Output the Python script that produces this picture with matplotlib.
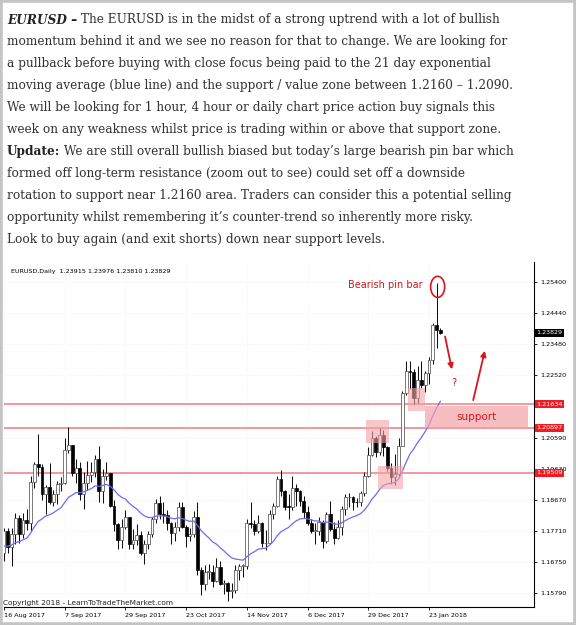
import numpy as np
import pandas as pd
import matplotlib
matplotlib.use("Agg")
import matplotlib.pyplot as plt
from matplotlib.patches import Rectangle, Ellipse
from matplotlib.transforms import blended_transform_factory

# --- data (EURUSD daily, Aug 2017 - Jan 2018) ---
dates = pd.bdate_range("2017-08-16", "2018-01-26").drop(pd.to_datetime(["2017-12-25", "2018-01-01"]))

opens = [
    1.1705, 1.1770, 1.1723, 1.1761, 1.1812, 1.1763, 1.1805, 1.1797, 1.1924, 1.1977, 1.1968, 1.1886,
    1.1908, 1.1860, 1.1886, 1.1917, 1.1920, 1.2023, 1.2036, 1.1950, 1.1966, 1.1886, 1.1920, 1.1943,
    1.1954, 1.1995, 1.1894, 1.1940, 1.1950, 1.1848, 1.1792, 1.1745, 1.1785,
    1.1815, 1.1732, 1.1745, 1.1760, 1.1705, 1.1730, 1.1763, 1.1810, 1.1858, 1.1825, 1.1820, 1.1795,
    1.1765, 1.1785, 1.1847, 1.1785, 1.1757, 1.1762, 1.1815, 1.1652, 1.1607, 1.1645,
    1.1645, 1.1617, 1.1660, 1.1607, 1.1610, 1.1585, 1.1590, 1.1650, 1.1664, 1.1664, 1.1797, 1.1794,
    1.1771, 1.1795, 1.1733, 1.1734, 1.1823, 1.1850, 1.1932, 1.1894, 1.1846, 1.1845,
    1.1905, 1.1895, 1.1865, 1.1830, 1.1795, 1.1772, 1.1772, 1.1800, 1.1742, 1.1825, 1.1779, 1.1750,
    1.1785, 1.1838, 1.1875, 1.1875, 1.1862, 1.1860, 1.1889, 1.1942,
    1.2005, 1.2059, 1.2015, 1.2068, 1.2030, 1.1967, 1.1937, 1.1947, 1.2035, 1.2197, 1.2264, 1.2263,
    1.2181, 1.2236, 1.2221, 1.2260, 1.2299, 1.2408, 1.23915,
]
highs = [
    1.1780, 1.1780, 1.1780, 1.1826, 1.1822, 1.1826, 1.1838, 1.1940, 1.1983, 1.2070, 1.1978, 1.1915,
    1.1980, 1.1898, 1.1925, 1.1937, 1.2060, 1.2092, 1.2036, 1.1995, 1.1984, 1.1953, 1.1988, 1.1985,
    1.2005, 1.2034, 1.1962, 1.1985, 1.1951, 1.1867, 1.1797, 1.1810, 1.1835,
    1.1815, 1.1777, 1.1792, 1.1770, 1.1743, 1.1773, 1.1815, 1.1869, 1.1880, 1.1860, 1.1835, 1.1799,
    1.1800, 1.1860, 1.1860, 1.1790, 1.1781, 1.1833, 1.1861, 1.1661, 1.1667, 1.1669,
    1.1667, 1.1688, 1.1680, 1.1620, 1.1615, 1.1612, 1.1668, 1.1670, 1.1670, 1.1810, 1.1861, 1.1805,
    1.1822, 1.1800, 1.1775, 1.1835, 1.1858, 1.1940, 1.1961, 1.1898, 1.1886, 1.1940,
    1.1916, 1.1897, 1.1878, 1.1848, 1.1810, 1.1795, 1.1815, 1.1805, 1.1830, 1.1863, 1.1800, 1.1806,
    1.1848, 1.1885, 1.1890, 1.1879, 1.1873, 1.1895, 1.1955, 1.2030,
    1.2081, 1.2065, 1.2089, 1.2083, 1.2035, 1.1980, 1.2010, 1.2058, 1.2203, 1.2297, 1.2296, 1.2271,
    1.2280, 1.2297, 1.2265, 1.2309, 1.2415, 1.2537, 1.23976,
]
lows = [
    1.1680, 1.1704, 1.1662, 1.1730, 1.1735, 1.1750, 1.1774, 1.1771, 1.1905, 1.1941, 1.1866, 1.1823,
    1.1855, 1.1850, 1.1856, 1.1896, 1.1917, 1.2012, 1.1940, 1.1920, 1.1867, 1.1838, 1.1898, 1.1923,
    1.1937, 1.1861, 1.1858, 1.1930, 1.1846, 1.1771, 1.1717, 1.1720, 1.1777,
    1.1717, 1.1715, 1.1727, 1.1697, 1.1669, 1.1715, 1.1752, 1.1795, 1.1808, 1.1795, 1.1775, 1.1730,
    1.1740, 1.1770, 1.1780, 1.1722, 1.1740, 1.1752, 1.1635, 1.1574, 1.1590, 1.1622,
    1.1600, 1.1614, 1.1604, 1.1576, 1.1554, 1.1566, 1.1580, 1.1620, 1.1630, 1.1655, 1.1780, 1.1760,
    1.1765, 1.1722, 1.1713, 1.1730, 1.1810, 1.1845, 1.1880, 1.1835, 1.1810, 1.1837,
    1.1850, 1.1850, 1.1812, 1.1790, 1.1765, 1.1730, 1.1760, 1.1718, 1.1733, 1.1770, 1.1730, 1.1748,
    1.1760, 1.1820, 1.1845, 1.1835, 1.1845, 1.1848, 1.1880, 1.1937,
    1.2002, 1.2000, 1.2007, 1.2004, 1.1956, 1.1916, 1.1915, 1.1942, 1.2034, 1.2192, 1.2209, 1.2165,
    1.2167, 1.2213, 1.2202, 1.2225, 1.2287, 1.2337, 1.23810,
]
closes = [
    1.1770, 1.1723, 1.1761, 1.1812, 1.1763, 1.1805, 1.1797, 1.1924, 1.1977, 1.1968, 1.1886, 1.1908,
    1.1860, 1.1886, 1.1917, 1.1920, 1.2023, 1.2036, 1.1950, 1.1966, 1.1886, 1.1920, 1.1943, 1.1954,
    1.1995, 1.1894, 1.1940, 1.1950, 1.1848, 1.1792, 1.1745, 1.1785, 1.1815,
    1.1732, 1.1745, 1.1760, 1.1705, 1.1730, 1.1763, 1.1810, 1.1858, 1.1825, 1.1820, 1.1795, 1.1765,
    1.1785, 1.1847, 1.1785, 1.1757, 1.1762, 1.1815, 1.1652, 1.1607, 1.1645, 1.1645,
    1.1617, 1.1660, 1.1607, 1.1610, 1.1585, 1.1590, 1.1650, 1.1664, 1.1664, 1.1797, 1.1794, 1.1771,
    1.1795, 1.1733, 1.1734, 1.1823, 1.1850, 1.1932, 1.1894, 1.1846, 1.1845, 1.1905,
    1.1895, 1.1865, 1.1830, 1.1795, 1.1772, 1.1772, 1.1800, 1.1742, 1.1825, 1.1779, 1.1750, 1.1785,
    1.1838, 1.1875, 1.1875, 1.1862, 1.1860, 1.1889, 1.1942, 1.2005,
    1.2059, 1.2015, 1.2068, 1.2030, 1.1967, 1.1937, 1.1947, 1.2035, 1.2197, 1.2264, 1.2263, 1.2181,
    1.2236, 1.2221, 1.2260, 1.2299, 1.2408, 1.2392, 1.23829,
]
ema_start = 1.1725  # value of the 21 EMA at the left edge of the chart

price_ticks = [1.25400, 1.24440, 1.23480, 1.22520, 1.21560, 1.20590,
               1.19630, 1.18670, 1.17710, 1.16750, 1.15790]
hidden_ticks = [1.21560]  # covered by the level tag in the original
level_lines = [1.21634, 1.20897, 1.19509]
last_price = 1.23829
date_labels = ["16 Aug 2017", "7 Sep 2017", "29 Sep 2017", "23 Oct 2017",
               "14 Nov 2017", "6 Dec 2017", "29 Dec 2017", "23 Jan 2018"]
header = "EURUSD,Daily  1.23915 1.23976 1.23810 1.23829"

para = [
    " The EURUSD is in the midst of a strong uptrend with a lot of bullish",
    "momentum behind it and we see no reason for that to change. We are looking for",
    "a pullback before buying with close focus being paid to the 21 day exponential",
    "moving average (blue line) and the support / value zone between 1.2160 \u2013 1.2090.",
    "We will be looking for 1 hour, 4 hour or daily chart price action buy signals this",
    "week on any weakness whilst price is trading within or above that support zone.",
    " We are still overall bullish biased but today\u2019s large bearish pin bar which",
    "formed off long-term resistance (zoom out to see) could set off a downside",
    "rotation to support near 1.2160 area. Traders can consider this a potential selling",
    "opportunity whilst remembering it\u2019s counter-trend so inherently more risky.",
    "Look to buy again (and exit shorts) down near support levels.",
]
lead_words = {0: ("EURUSD \u2013", "italic"), 6: ("Update:", "normal")}

W, H = 576, 625
fig = plt.figure(figsize=(W / 100, H / 100), dpi=100)
fig.patch.set_facecolor("white")
renderer = fig.canvas.get_renderer()

# --- paragraph ---
txt_col = "#333333"
probe = fig.text(0, 0, para[1], fontsize=10, family="DejaVu Serif")
fs = 10 * 503 / probe.get_window_extent(renderer).width
probe.remove()
for k, line in enumerate(para):
    ybase = 1 - (23.5 + k * 21.9) / H
    x = 7 / W
    if k in lead_words:
        word, style = lead_words[k]
        t = fig.text(x, ybase, word, fontsize=fs, family="DejaVu Serif", weight="bold",
                     style=style, color="#222222", va="baseline")
        x = t.get_window_extent(renderer).x1 / W
    fig.text(x, ybase, line, fontsize=fs, family="DejaVu Serif", color=txt_col, va="baseline")

# --- chart ---
px_left, px_right, px_top, px_bot = 4, 534, 262, 607
ax = fig.add_axes([px_left / W, 1 - px_bot / H, (px_right - px_left) / W, (px_bot - px_top) / H])
xs = np.arange(len(closes))
o, h, l, c = map(np.array, (opens, highs, lows, closes))
bull = c >= o

ax.vlines(xs, l, h, color="#111111", lw=0.75, zorder=3)
body_lo = np.minimum(o, c)
body_h = np.maximum(np.abs(c - o), 0.00025)
ax.bar(xs[bull], body_h[bull], bottom=body_lo[bull], width=0.75, facecolor="white",
       edgecolor="#555555", lw=0.55, zorder=4)
ax.bar(xs[~bull], body_h[~bull], bottom=body_lo[~bull], width=0.75, facecolor="black",
       edgecolor="black", lw=0.5, zorder=4)

ema = [ema_start]
for v in closes[1:]:
    ema.append(ema[-1] + 2 / 22 * (v - ema[-1]))
ax.plot(xs, ema, color="#6b6bf5", lw=0.9, zorder=5)

for lv in level_lines:
    ax.axhline(lv, color="#f2858c", lw=1.2, zorder=2)

pink = "#f5a3a8"
for (x0, x1, y0, y1) in [(95.45, 101.5, 1.2043, 1.2114), (98.6, 105.1, 1.1901, 1.1972),
                         (106.45, 110.9, 1.2142, 1.2213)]:
    ax.add_patch(Rectangle((x0, y0), x1 - x0, y1 - y0, facecolor=pink, alpha=0.6,
                           edgecolor="none", zorder=6))
ax.add_patch(Rectangle((110.9, 1.2089), 27.2, 1.2157 - 1.2089, facecolor=pink, alpha=0.7,
                       edgecolor="none", zorder=6))
red = "#d7161f"
ax.text(124.5, 1.2122, "support", color=red, fontsize=7.5, ha="center", va="center", zorder=7)
ax.text(100.4, 1.2531, "Bearish pin bar", color=red, fontsize=7, ha="center", va="center", zorder=7)
ax.add_patch(Ellipse((114.3, 1.2525), 3.7, 0.0065, fill=False, edgecolor=red, lw=1.2, zorder=7))
ax.annotate("", xy=(118.2, 1.2262), xytext=(116.1, 1.2380),
            arrowprops=dict(arrowstyle="-|>", color=red, lw=1.3, mutation_scale=8), zorder=7)
ax.annotate("", xy=(126.9, 1.2336), xytext=(123.5, 1.2167),
            arrowprops=dict(arrowstyle="-|>", color=red, lw=1.3, mutation_scale=8), zorder=7)
ax.text(118.5, 1.2228, "?", color=red, fontsize=7, ha="center", va="center", zorder=7)

ax.set_xlim(0.95, 0.95 + (px_right - px_left) / 3.82)
ax.set_ylim(1.254 - (px_bot - 282) / 3240, 1.254 + (282 - px_top) / 3240)

ax.yaxis.tick_right()
ax.set_yticks(price_ticks)
ax.set_yticklabels(["" if p in hidden_ticks else f"{p:.5f}" for p in price_ticks])
date_pos = []
for lab in date_labels:
    d = pd.to_datetime(lab, format="%d %b %Y")
    date_pos.append(dates.get_indexer([d])[0] if d in dates else 2 - np.busday_count(d.date(), dates[2].date()))
ax.set_xticks(date_pos)
ax.set_xticklabels(date_labels, ha="left")
ax.tick_params(axis="both", labelsize=4.6, length=2.5, width=0.6, pad=1.5, colors="black")
ax.tick_params(axis="y", pad=2)
ax.grid(True, color="#e4e4e4", lw=0.5, ls=(0, (1, 3)))
for s in ("top", "left"):
    ax.spines[s].set_visible(False)
for s in ("right", "bottom"):
    ax.spines[s].set_linewidth(0.8)

tr = blended_transform_factory(ax.transAxes, ax.transData)
for lv in level_lines:
    ax.text(1.004, lv, f"{lv:.5f}", transform=tr, fontsize=4.6, color="white", ha="left",
            va="center", clip_on=False, zorder=10,
            bbox=dict(boxstyle="square,pad=0.25", facecolor="#f01c24", edgecolor="none"))
ax.text(1.004, last_price, f"{last_price:.5f}", transform=tr, fontsize=4.6, color="white",
        ha="left", va="center", clip_on=False, zorder=10,
        bbox=dict(boxstyle="square,pad=0.25", facecolor="black", edgecolor="none"))

fig.text(11 / W, 1 - 271 / H, header, fontsize=4.6, va="center", color="black")
fig.text(3 / W, 1 - 603 / H, "Copyright 2018 - LearnToTradeTheMarket.com", fontsize=5.3,
         va="center", color="#222222")

fig.patches.append(Rectangle((0, 0), 1, 1, transform=fig.transFigure, fill=False,
                             edgecolor="#c4c4c4", lw=4))
fig.savefig("out.png", dpi=100)
